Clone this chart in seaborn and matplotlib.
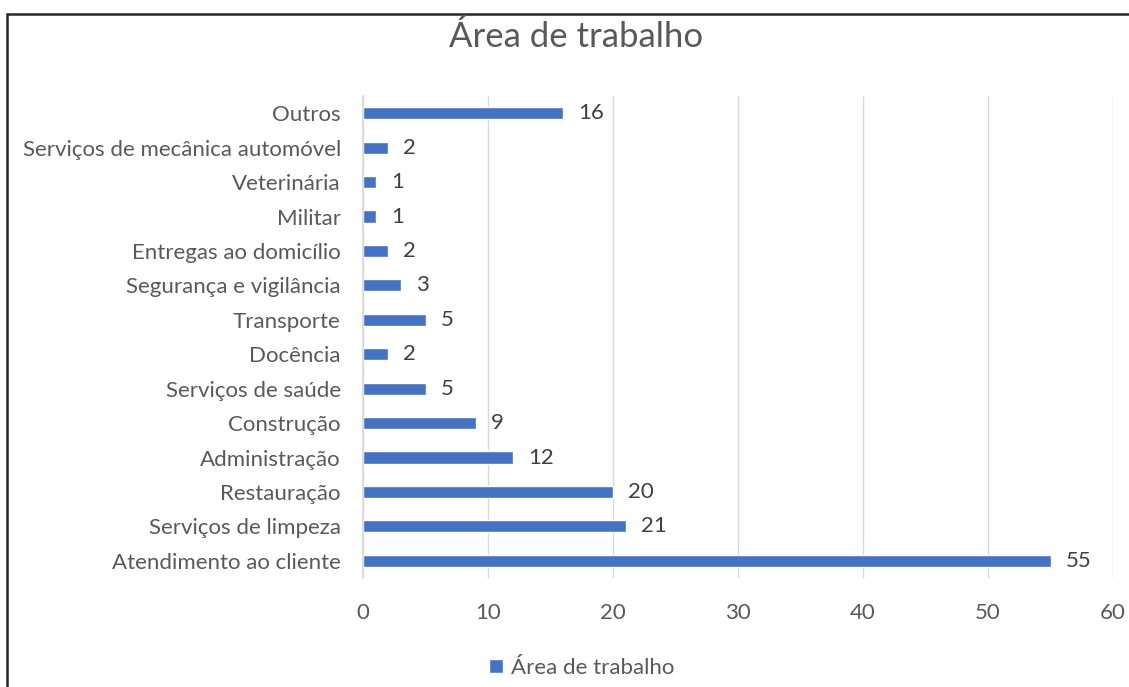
import matplotlib
matplotlib.use('Agg')
import matplotlib.pyplot as plt
from matplotlib.patches import Rectangle
import pandas as pd
import seaborn as sns

categories = ['Outros', 'Serviços de mecânica automóvel', 'Veterinária', 'Militar',
              'Entregas ao domicílio', 'Segurança e vigilância', 'Transporte', 'Docência',
              'Serviços de saúde', 'Construção', 'Administração', 'Restauração',
              'Serviços de limpeza', 'Atendimento ao cliente']
counts = [16, 2, 1, 1, 2, 3, 5, 2, 5, 9, 12, 20, 21, 55]
xticks = [0, 10, 20, 30, 40, 50, 60]

df = pd.DataFrame({'area': categories, 'count': counts})

sns.set_theme(style='white')
plt.rcParams['font.family'] = ['Lato', 'DejaVu Sans']

fig = plt.figure(figsize=(11.29, 6.87), dpi=100)
ax = fig.add_axes([363 / 1129, 1 - 578 / 687, 750 / 1129, 482 / 687])

sns.barplot(data=df, x='count', y='area', orient='h', color='#4472C4', width=0.35,
            saturation=1, label='Área de trabalho', ax=ax)
if ax.get_legend() is not None:
    ax.get_legend().remove()

ax.set_xlim(0, 60)
ax.set_ylim(13.5, -0.5)
ax.set_xticks(xticks)
ax.grid(axis='x', color='#D9D9D9', linewidth=1)
ax.set_axisbelow(True)
for s in ['top', 'right', 'bottom']:
    ax.spines[s].set_visible(False)
ax.spines['left'].set_color('#D9D9D9')
ax.tick_params(axis='both', length=0, labelsize=16, labelcolor='#595959')
ax.tick_params(axis='x', pad=18)
ax.tick_params(axis='y', pad=16)
ax.set_xlabel('')
ax.set_ylabel('')

ax.bar_label(ax.containers[0], padding=11, fontsize=16, color='#404040')

fig.text(576 / 1129, 1 - 37 / 687, 'Área de trabalho', ha='center', va='center',
         fontsize=25, color='#595959')

fig.legend(loc='center', bbox_to_anchor=(582 / 1129, 1 - 668 / 687), frameon=False,
           fontsize=16, labelcolor='#595959', handlelength=0.6, handleheight=0.6,
           handletextpad=0.4)

# chart frame (cropped on right and bottom)
fig.patches.append(Rectangle((7 / 1129, -0.1), 1.2, 1.1 - 14 / 687, transform=fig.transFigure,
                             fill=False, edgecolor='#262626', linewidth=1.8))

fig.savefig('out.png', dpi=100)
